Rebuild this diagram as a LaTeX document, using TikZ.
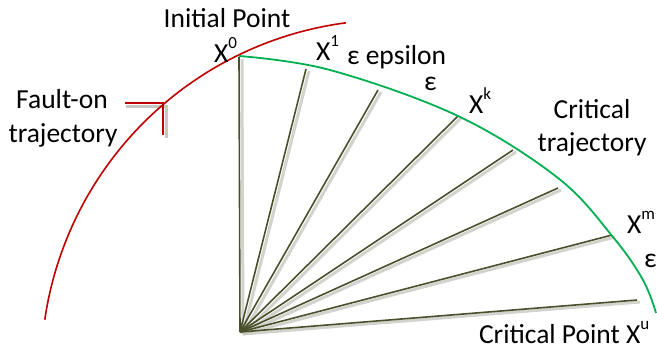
\documentclass[tikz,border=0pt]{standalone}
\usepackage{fontspec}
\setmainfont{Carlito}
\newcommand\supx[1]{\raisebox{1.05ex}{\fontsize{17}{17}\selectfont #1}}
\definecolor{faultred}{RGB}{192,0,0}
\definecolor{critgreen}{RGB}{0,176,80}
\definecolor{rayolive}{RGB}{74,80,44}
\definecolor{shadowgray}{RGB}{200,200,192}
\begin{document}
\begin{tikzpicture}[x=1pt,y=-1pt,
  lbl/.style={inner sep=0pt,outer sep=0pt,font=\fontsize{27.5}{33}\selectfont,anchor=base west},
  ray/.style={draw=rayolive,line width=1.6pt},
  rayshadow/.style={draw=shadowgray,line width=3pt,opacity=0.8},
  redline/.style={draw=faultred,line width=1.6pt},
  greenline/.style={draw=critgreen,line width=1.8pt}]
\useasboundingbox (0,0) rectangle (657,349);
% ray origin and end points
\coordinate (o) at (240,332);
\coordinate (r0) at (239,57);
\coordinate (r1) at (306,69);
\coordinate (r2) at (378,90);
\coordinate (r3) at (458,116);
\coordinate (r4) at (513,150);
\coordinate (r5) at (558,188);
\coordinate (r6) at (612,235);
\coordinate (r7) at (637,300);
% shadows
\foreach \i in {0,...,7}{
  \draw[rayshadow] ([shift={(3,2)}]o) -- ([shift={(3,2)}]r\i);
}
\draw[draw=shadowgray,line width=3pt] (126,106) -- (166,106) -- (166,138);
% rays
\foreach \i in {0,...,7}{
  \draw[ray] (o) -- (r\i);
}
% red fault-on trajectory (circle arc)
\draw[redline] plot[domain=188.3:262.5,samples=80] ({391.6+350.5*cos(\x)},{370.3+350.5*sin(\x)});
% red tick
\coordinate (t0) at (125,103);
\coordinate (t1) at (163,103);
\coordinate (t2) at (163,135);
\draw[redline] (t0) -- (t1) -- (t2);
% green critical trajectory
\draw[greenline] plot[smooth,tension=0.6] coordinates {(239,56) (330,70) (458,116) (558,178) (613,237) (643,280) (656,313)};
% labels
\node[lbl,anchor=base] (ip) at (227,27) {Initial Point};
\node[lbl] (x0) at (214,62) {X\supx{0}};
\node[lbl] (x1) at (316,60) {X\supx{1}};
\node[lbl] (eps1) at (347,64) {ε epsilon};
\node[lbl] (eps2) at (424,90) {ε};
\node[lbl] (xk) at (469,113) {X\supx{k}};
\node[lbl,anchor=base] (ct1) at (592,118) {Critical};
\node[lbl,anchor=base] (ct2) at (592,151) {trajectory};
\node[lbl] (xm) at (627,233) {X\supx{m}};
\node[lbl] (eps3) at (644,267) {ε};
\node[lbl] (cp) at (479,343) {Critical Point X\supx{u}};
\node[lbl,anchor=base] (fo1) at (62,108) {Fault-on};
\node[lbl,anchor=base] (fo2) at (63,142) {trajectory};
\end{tikzpicture}
\end{document}
